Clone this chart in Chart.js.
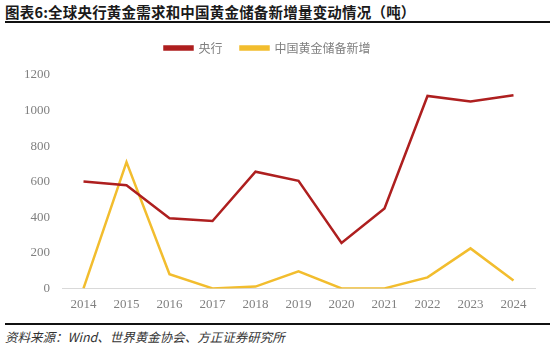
<!DOCTYPE html>
<html>
<head>
<meta charset="utf-8">
<script src="https://cdn.jsdelivr.net/npm/chart.js@4"></script>
<style>
  html, body { margin: 0; padding: 0; background: #fff; }
  body { width: 554px; height: 350px; position: relative; overflow: hidden; font-family: "Noto Sans CJK SC", sans-serif; }
  .title { position: absolute; left: 5px; top: 1px; font-size: 14.5px; font-weight: bold; color: #1a1a1a; letter-spacing: 0.2px; white-space: nowrap; }
  .rule { position: absolute; left: 5px; right: 4px; height: 2px; background: #111; }
  .source { position: absolute; left: 5px; top: 327px; font-size: 12.5px; font-style: italic; color: #333; white-space: nowrap; }
  .chart-box { position: absolute; left: 0; top: 24px; width: 554px; height: 296px; }
</style>
</head>
<body>
<div class="title">图表6:全球央行黄金需求和中国黄金储备新增量变动情况（吨）</div>
<div class="rule" style="top:21px;"></div>
<div class="chart-box"><canvas id="chart-gold"></canvas></div>
<div class="rule" style="top:323px;"></div>
<div class="source">资料来源：Wind、世界黄金协会、方正证券研究所</div>

<script>
const years = ['2014','2015','2016','2017','2018','2019','2020','2021','2022','2023','2024'];
const centralBanks = [601, 580, 395, 379, 656, 605, 255, 450, 1082, 1051, 1086];
const chinaAdded   = [0, 710, 80, 0, 10, 96, 0, 0, 62, 225, 44];
const yTicks = [0, 200, 400, 600, 800, 1000, 1200];

const tickFont = { family: '"Liberation Serif", "DejaVu Serif", serif', size: 13 };

// extra room between the legend and the plot
const legendGap = {
  id: 'legendGap',
  beforeInit(chart) {
    const fit = chart.legend.fit;
    chart.legend.fit = function () {
      fit.bind(chart.legend)();
      this.height += 11;
    };
  },
};

new Chart(document.getElementById('chart-gold'), {
  type: 'line',
  data: {
    labels: years,
    datasets: [
      { label: '央行', data: centralBanks, borderColor: '#AE1F1F', backgroundColor: '#AE1F1F', borderWidth: 2.5, pointRadius: 0, tension: 0 },
      { label: '中国黄金储备新增', data: chinaAdded, borderColor: '#F2BD2E', backgroundColor: '#F2BD2E', borderWidth: 2.5, pointRadius: 0, tension: 0 },
    ],
  },
  options: {
    responsive: true,
    maintainAspectRatio: false,
    animation: false,
    layout: { padding: { left: 0, right: 19, top: 0, bottom: 0 } },
    plugins: {
      legend: {
        labels: {
          color: '#7f7f7f',
          boxWidth: 28,
          boxHeight: 3,
          padding: 18,
          font: { family: '"Noto Sans CJK SC", sans-serif', size: 12 },
        },
      },
      tooltip: { enabled: false },
    },
    scales: {
      x: {
        offset: true,
        grid: { display: false, drawTicks: false },
        border: { display: true, color: '#d9d9d9', width: 1 },
        ticks: { color: '#808080', font: tickFont, padding: 8, maxRotation: 0 },
      },
      y: {
        min: 0,
        max: 1200,
        afterBuildTicks: axis => { axis.ticks = yTicks.map(v => ({ value: v })); },
        afterFit: axis => { axis.width = 62; },
        grid: { display: false, drawTicks: false },
        border: { display: false },
        ticks: { color: '#808080', font: tickFont, padding: 12, callback: v => String(v) },
      },
    },
  },
  plugins: [legendGap],
});
</script>
</body>
</html>
